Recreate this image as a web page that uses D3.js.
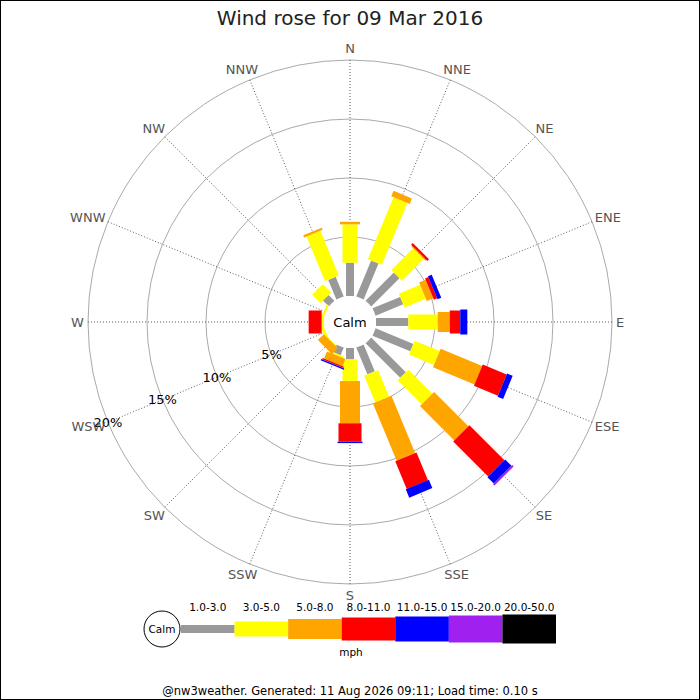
<!DOCTYPE html>
<html>
<head>
<meta charset="utf-8">
<script src="https://cdn.jsdelivr.net/npm/d3@7"></script>
<style>
  body { margin: 0; background: #fff; }
  svg { display: block; font-family: "DejaVu Sans", sans-serif; }
</style>
</head>
<body>
<div id="chart"></div>
<script>
// compass points, clockwise from north
const directions = ["N", "NNE", "NE", "ENE", "E", "ESE", "SE", "SSE",
                    "S", "SSW", "SW", "WSW", "W", "WNW", "NW", "NNW"];
const speedBands = ["1.0-3.0", "3.0-5.0", "5.0-8.0", "8.0-11.0", "11.0-15.0", "15.0-20.0", "20.0-50.0"];

// percentage of the day per direction, one array per speed band (mph)
const pct_1_3   = [2.82, 3.30, 3.39, 2.54, 2.74, 3.47, 4.15, 2.46, 0.96, 0.70, 0.00, 0.00, 0.00, 0.00, 0.70, 1.80];
const pct_3_5   = [3.25, 5.68, 2.60, 1.95, 2.49, 2.29, 2.88, 2.46, 1.84, 0.15, 0.10, 0.25, 0.20, 0.20, 1.00, 4.10];
const pct_5_8   = [0.22, 0.50, 0.10, 0.60, 1.02, 3.81, 4.11, 5.25, 3.58, 0.65, 0.70, 0.00, 0.00, 0.00, 0.00, 0.20];
const pct_8_11  = [0.00, 0.00, 0.20, 0.30, 0.89, 2.20, 4.19, 2.54, 1.56, 0.12, 0.00, 0.00, 1.10, 0.00, 0.00, 0.00];
const pct_11_15 = [0.00, 0.00, 0.00, 0.34, 0.60, 0.51, 0.76, 0.76, 0.12, 0.12, 0.00, 0.00, 0.00, 0.00, 0.00, 0.00];
const pct_15_20 = [0.00, 0.00, 0.00, 0.00, 0.00, 0.00, 0.17, 0.00, 0.00, 0.00, 0.00, 0.00, 0.00, 0.00, 0.00, 0.00];
const pct_20_50 = [0.00, 0.00, 0.00, 0.00, 0.00, 0.00, 0.00, 0.00, 0.00, 0.00, 0.00, 0.00, 0.00, 0.00, 0.00, 0.00];

const ringTicks = [5, 10, 15, 20];

// styles
const bandColors = ["#999999", "#ffff00", "#ffa500", "#ff0000", "#0000ff", "#a020f0", "#000000"];
const bandWidths = [8, 15, 20, 23, 25, 27, 29];

const width = 700, height = 700;
const cx = 350, cy = 322;
const calmR = 26;

const svg = d3.select("#chart").append("svg")
    .attr("width", width)
    .attr("height", height);

svg.append("rect")
    .attr("x", 0.5).attr("y", 0.5)
    .attr("width", width - 1).attr("height", height - 1)
    .attr("fill", "#fff")
    .attr("stroke", "#000");

svg.append("text")
    .attr("x", cx)
    .attr("y", 25)
    .attr("text-anchor", "middle")
    .attr("font-size", "20px")
    .attr("fill", "#222")
    .text("Wind rose for 09 Mar 2016");

const rScale = d3.scaleLinear().domain([0, 20]).range([calmR, 262]);
const aScale = d3.scaleLinear().domain([0, directions.length]).range([0, 360]);

function polar(angle, r) {
    const rad = angle * Math.PI / 180;
    return [cx + Math.sin(rad) * r, cy - Math.cos(rad) * r];
}

const plot = svg.append("g");

// rings
plot.selectAll("circle.ring")
    .data(ringTicks)
    .enter().append("circle")
    .attr("class", "ring")
    .attr("cx", cx).attr("cy", cy)
    .attr("r", d => rScale(d))
    .attr("fill", "none")
    .attr("stroke", "#aaa")
    .attr("stroke-width", 1);

// spokes
plot.selectAll("line.spoke")
    .data(directions)
    .enter().append("line")
    .attr("class", "spoke")
    .attr("x1", cx).attr("y1", cy)
    .attr("x2", (d, i) => polar(aScale(i), rScale(20))[0])
    .attr("y2", (d, i) => polar(aScale(i), rScale(20))[1])
    .attr("stroke", "#333")
    .attr("stroke-width", 0.8)
    .attr("stroke-dasharray", "1,2");

// stacked bars
const bandArrays = [pct_1_3, pct_3_5, pct_5_8, pct_8_11, pct_11_15, pct_15_20, pct_20_50];
const rows = directions.map((dir, i) => {
    const row = { dir: dir };
    speedBands.forEach((b, k) => row[b] = bandArrays[k][i]);
    return row;
});
const stacked = d3.stack().keys(speedBands)(rows);

stacked.forEach((series, k) => {
    plot.append("g")
        .selectAll("rect")
        .data(series.filter(d => d[1] - d[0] > 0))
        .enter().append("rect")
        .attr("transform", d => "translate(" + cx + "," + cy + ") rotate(" + aScale(directions.indexOf(d.data.dir)) + ")")
        .attr("x", -bandWidths[k] / 2)
        .attr("y", d => -rScale(d[1]))
        .attr("width", bandWidths[k])
        .attr("height", d => rScale(d[1]) - rScale(d[0]))
        .attr("fill", bandColors[k]);
});

// calm circle
plot.append("circle")
    .attr("cx", cx).attr("cy", cy)
    .attr("r", calmR)
    .attr("fill", "#fff");

plot.append("text")
    .attr("x", cx).attr("y", cy)
    .attr("dy", "0.35em")
    .attr("text-anchor", "middle")
    .attr("font-size", "13px")
    .attr("fill", "#000")
    .text("Calm");

// ring labels along WSW
const labelAngle = aScale(directions.indexOf("WSW"));
plot.selectAll("text.ringlabel")
    .data(ringTicks)
    .enter().append("text")
    .attr("class", "ringlabel")
    .attr("x", d => polar(labelAngle, rScale(d))[0])
    .attr("y", d => polar(labelAngle, rScale(d))[1])
    .attr("dy", "0.35em")
    .attr("text-anchor", "middle")
    .attr("font-size", "13px")
    .attr("fill", "#000")
    .text(d => d + "%");

// compass labels just outside the outer ring
plot.selectAll("text.dir")
    .data(directions)
    .enter().append("text")
    .attr("class", "dir")
    .attr("text-anchor", "middle")
    .attr("dy", "0.35em")
    .attr("font-size", "13px")
    .attr("fill", "#555")
    .text(d => d)
    .each(function (d, i) {
        const bb = this.getBBox();
        const a = aScale(i) * Math.PI / 180;
        const p = polar(aScale(i), rScale(20) + 4);
        d3.select(this)
            .attr("x", p[0] + Math.sin(a) * bb.width / 2)
            .attr("y", p[1] - Math.cos(a) * bb.height / 2);
    });

// legend
const legendY = 629;
const legendX = d3.scaleBand().domain(speedBands).range([181, 556]);
const legend = svg.append("g");

legend.append("circle")
    .attr("cx", 162).attr("cy", legendY)
    .attr("r", 18)
    .attr("fill", "#fff")
    .attr("stroke", "#000");

legend.append("text")
    .attr("x", 162).attr("y", legendY)
    .attr("dy", "0.35em")
    .attr("text-anchor", "middle")
    .attr("font-size", "10.5px")
    .text("Calm");

legend.selectAll("rect")
    .data(speedBands)
    .enter().append("rect")
    .attr("x", d => legendX(d))
    .attr("y", (d, k) => legendY - bandWidths[k] / 2)
    .attr("width", legendX.bandwidth())
    .attr("height", (d, k) => bandWidths[k])
    .attr("fill", (d, k) => bandColors[k]);

legend.selectAll("text.band")
    .data(speedBands)
    .enter().append("text")
    .attr("class", "band")
    .attr("x", d => legendX(d) + legendX.bandwidth() / 2)
    .attr("y", 611)
    .attr("text-anchor", "middle")
    .attr("font-size", "10.5px")
    .text(d => d);

legend.append("text")
    .attr("x", 351).attr("y", 656)
    .attr("text-anchor", "middle")
    .attr("font-size", "10.5px")
    .text("mph");

svg.append("text")
    .attr("x", cx).attr("y", 695)
    .attr("text-anchor", "middle")
    .attr("font-size", "11.5px")
    .attr("fill", "#000")
    .text("@nw3weather. Generated: 11 Aug 2026 09:11; Load time: 0.10 s");
</script>
</body>
</html>
